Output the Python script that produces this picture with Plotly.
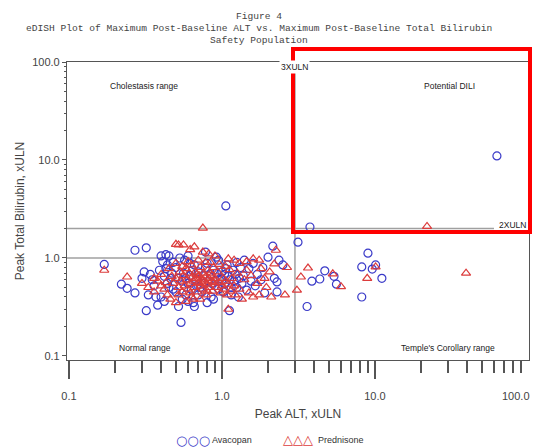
import math
import plotly.graph_objects as go

# ---- data ----
ava_alt = [62.7, 3.76, 1.06, 3.14, 9.0, 8.2, 9.6, 10.1, 11.1, 8.2, 4.7, 4.36, 3.87, 5.4, 5.6, 3.6,
           0.17, 0.27, 0.32, 0.22, 0.24, 0.27, 0.32, 0.54, 0.31, 0.30, 0.35, 0.33, 0.37, 0.40, 0.38, 0.42,
           0.44, 0.40, 0.43, 0.45, 0.41, 0.39, 0.43, 0.47, 0.48, 0.50, 0.52, 0.55, 0.57, 0.60, 0.62, 0.58,
           0.60, 0.63, 0.65, 0.66, 0.68, 0.70, 0.72, 0.74, 0.75, 0.78, 0.80, 0.82, 0.85, 0.88, 0.90, 0.92,
           0.95, 0.98, 1.00, 1.02, 1.05, 1.08, 1.10, 1.12, 1.15, 1.18, 1.20, 1.25, 1.28, 1.30, 1.35, 1.40,
           1.45, 1.50, 1.55, 1.60, 1.65, 1.70, 1.80, 1.85, 1.90, 2.00, 2.15, 2.20, 2.36, 2.29, 2.29, 2.50,
           0.52, 0.55, 0.56, 0.50, 0.48, 0.53, 0.46, 0.45, 0.62, 0.64, 0.66, 0.68, 0.70, 0.76, 0.78, 0.84,
           0.86, 0.92, 0.95, 1.00, 1.04, 1.06, 1.12, 1.22, 1.32, 1.38, 0.36, 0.34, 0.42, 0.44, 0.58, 0.60,
           0.80, 0.88, 1.15, 1.25]
ava_bili = [11.0, 2.07, 3.4, 1.45, 1.12, 0.81, 0.77, 0.85, 0.62, 0.40, 0.74, 0.61, 0.58, 0.65, 0.54, 0.32,
            0.86, 1.20, 1.27, 0.54, 0.49, 0.44, 0.29, 0.22, 0.72, 0.62, 0.60, 0.42, 0.40, 0.40, 0.33, 0.36,
            0.55, 1.05, 1.08, 1.05, 0.92, 0.75, 0.78, 0.70, 0.48, 0.45, 0.32, 0.38, 0.95, 1.05, 0.88, 0.62,
            0.55, 0.48, 0.35, 0.32, 0.60, 0.72, 0.50, 0.45, 0.66, 1.15, 0.88, 0.58, 0.40, 0.75, 0.52, 1.02,
            0.95, 0.62, 0.72, 0.45, 0.55, 0.85, 0.65, 0.29, 0.50, 0.75, 0.58, 0.90, 0.40, 0.62, 0.55, 0.95,
            0.47, 0.78, 0.58, 0.88, 0.52, 0.68, 0.60, 0.80, 0.44, 1.02, 1.32, 0.62, 0.95, 0.57, 0.45, 0.85,
            0.62, 0.58, 0.70, 0.80, 0.90, 1.00, 0.62, 0.50, 0.66, 0.75, 0.85, 0.52, 0.42, 0.55, 0.80, 0.68,
            0.55, 0.70, 0.48, 0.60, 0.68, 0.78, 0.60, 0.68, 0.80, 0.66, 0.52, 0.68, 0.65, 0.85, 0.42, 0.36,
            0.35, 0.38, 0.42, 0.50]

pred_alt = [0.17, 0.24, 0.52, 0.56, 0.50, 0.75, 0.66, 0.62, 0.75, 0.82, 0.90, 1.10, 1.20, 1.30, 1.45, 1.60,
            1.75, 2.20, 2.25, 2.66, 2.58, 3.65, 3.28, 3.09, 5.3, 6.0, 8.9, 10.1, 21.9, 39.4, 1.10,
            0.30, 0.33, 0.36, 0.38, 0.40, 0.42, 0.44, 0.46, 0.48, 0.50, 0.50, 0.52, 0.53, 0.54, 0.55, 0.56,
            0.57, 0.58, 0.59, 0.60, 0.61, 0.62, 0.63, 0.64, 0.65, 0.66, 0.67, 0.68, 0.69, 0.70, 0.71, 0.72,
            0.73, 0.74, 0.75, 0.76, 0.77, 0.78, 0.79, 0.80, 0.81, 0.82, 0.83, 0.84, 0.85, 0.86, 0.87, 0.88,
            0.90, 0.92, 0.94, 0.96, 0.98, 1.00, 1.02, 1.04, 1.06, 1.08, 1.10, 1.14, 1.16, 1.20, 1.22, 1.26,
            1.30, 1.35, 1.40, 1.45, 1.50, 1.55, 1.60, 1.70, 1.75, 1.80, 1.90, 1.95, 2.05, 2.10, 0.45, 0.47,
            0.50, 0.55, 0.60, 0.63, 0.70, 0.78, 0.88, 0.96, 1.05, 1.12, 0.58, 0.65, 0.72, 0.52, 0.62, 0.68,
            0.74, 0.80, 0.84, 0.90, 0.36, 0.40, 0.43]
pred_bili = [0.75, 0.64, 1.36, 1.36, 1.38, 2.02, 1.30, 1.22, 1.15, 1.10, 1.05, 0.98, 0.95, 0.88, 0.92, 0.98,
             0.95, 0.87, 1.20, 0.80, 0.42, 0.79, 0.64, 0.47, 0.69, 0.51, 0.62, 0.81, 2.10, 0.70, 0.30,
             0.55, 0.50, 0.45, 0.58, 0.68, 0.48, 0.42, 0.38, 0.55, 0.62, 0.35, 0.50, 0.72, 0.58, 0.45, 0.66,
             0.52, 0.78, 0.60, 0.48, 0.70, 0.55, 0.40, 0.64, 0.58, 0.50, 0.72, 0.62, 0.45, 0.56, 0.66, 0.80,
             0.52, 0.60, 0.48, 0.70, 0.58, 0.64, 0.42, 0.54, 0.75, 0.62, 0.50, 0.90, 0.58, 0.66, 0.46, 0.56,
             0.62, 0.50, 0.72, 0.56, 0.44, 0.52, 0.62, 0.48, 0.58, 0.42, 0.54, 0.46, 0.62, 0.52, 0.42, 0.70,
             0.48, 0.38, 0.60, 0.75, 0.44, 0.66, 0.40, 0.55, 0.42, 0.78, 0.62, 0.50, 0.72, 0.40, 0.78, 0.65,
             0.88, 0.82, 0.92, 0.85, 0.95, 0.90, 0.80, 0.86, 0.82, 0.76, 0.36, 0.38, 0.38, 0.42, 0.44, 0.68,
             0.55, 0.46, 0.70, 0.58, 0.62, 0.52, 0.56]

x_ticks = [0.1, 1, 10, 100]
x_ticktext = ["0.1", "1.0", "10.0", "100.0"]
y_ticks = [0.1, 1, 10, 100]
y_ticktext = ["0.1", "1.0", "10.0", "100.0"]
minor_vals = [m * d for d in (0.1, 1, 10) for m in range(2, 10)]

title_lines = ["Figure 4",
               "eDISH Plot of Maximum Post-Baseline ALT vs. Maximum Post-Baseline Total Bilirubin",
               "Safety Population"]

BLUE = "#3a3ac8"
RED = "#dc3c3c"
GRAY = "#a0a0a0"

# pixel geometry of plot area
L, R, T, B = 67, 529, 62, 360
W, H = 534, 448


def px(xp):
    return (xp - L) / (R - L)


def py(yp):
    return (B - yp) / (B - T)


fig = go.Figure()

# reference lines
line_style = dict(color=GRAY, width=1.5)
fig.add_trace(go.Scatter(x=[0.09, 1], y=[1, 1], mode="lines", line=line_style, hoverinfo="skip", showlegend=False))
fig.add_trace(go.Scatter(x=[1, 1], y=[0.08, 1], mode="lines", line=line_style, hoverinfo="skip", showlegend=False))
fig.add_trace(go.Scatter(x=[3, 3], y=[0.08, 80], mode="lines", line=line_style, hoverinfo="skip", showlegend=False))
fig.add_trace(go.Scatter(x=[0.09, 60], y=[2, 2], mode="lines", line=line_style, hoverinfo="skip", showlegend=False))

fig.add_trace(go.Scatter(x=ava_alt, y=ava_bili, mode="markers", name="Avacopan",
                         marker=dict(symbol="circle-open", size=8, color=BLUE, line=dict(width=1.2, color=BLUE))))
fig.add_trace(go.Scatter(x=pred_alt, y=pred_bili, mode="markers", name="Prednisone",
                         marker=dict(symbol="triangle-up-open", size=8, color=RED, line=dict(width=1.2, color=RED))))

fig.update_layout(
    width=W, height=H,
    margin=dict(l=L, r=W - R, t=T, b=H - B),
    paper_bgcolor="white", plot_bgcolor="white",
    showlegend=False,
    font=dict(family="Liberation Sans, Arial", color="#333333"),
)

fig.update_xaxes(type="log", range=[-1.013, 2.007], tickvals=x_ticks[:3], ticktext=x_ticktext[:3],
                 ticks="outside", ticklen=18, tickwidth=1.5, tickcolor="#555", automargin=False,
                 ticklabelstandoff=8,
                 minor=dict(ticks="outside", ticklen=12, tickwidth=1.5, tickcolor="#555", tickvals=minor_vals),
                 showgrid=False, zeroline=False, showline=True, linecolor="#555", linewidth=1.2, mirror=True,
                 tickfont=dict(size=11, color="#444"),
                 title=dict(text="Peak ALT, xULN", font=dict(size=12, color="#444"), standoff=8))
fig.update_yaxes(type="log", range=[-1.041, 2.0], tickvals=y_ticks, ticktext=y_ticktext,
                 ticks="outside", ticklen=4, tickwidth=1, tickcolor="#555", automargin=False,
                 minor=dict(ticks="outside", ticklen=2, tickwidth=1, tickcolor="#555", tickvals=minor_vals),
                 showgrid=False, zeroline=False, showline=True, linecolor="#555", linewidth=1.2, mirror=True,
                 tickfont=dict(size=11, color="#444"),
                 title=dict(text="Peak Total Bilirubin, xULN", font=dict(size=12, color="#444"), standoff=4))

ann = []
for txt, yy in zip(title_lines, [17, 28, 40]):
    ann.append(dict(text=txt, x=px(259), y=py(yy), xref="paper", yref="paper", showarrow=False,
                    xanchor="center", yanchor="middle",
                    font=dict(family="Liberation Mono, Courier New, monospace", size=9.6, color="#444")))

# last x tick label, shifted inward as in the reference
ann.append(dict(text=x_ticktext[3], x=px(532), y=py(396), xref="paper", yref="paper", showarrow=False,
                xanchor="right", yanchor="middle", font=dict(size=11, color="#444")))

small = dict(family="Liberation Sans, Arial", size=8.5, color="#222")
for txt, xx, yy in [("Cholestasis range", 108, 86), ("Potential DILI", 422, 86),
                    ("Normal range", 117, 348), ("Temple's Corollary range", 399, 348)]:
    ann.append(dict(text=txt, x=px(xx), y=py(yy), xref="paper", yref="paper", showarrow=False,
                    xanchor="left", yanchor="middle", font=small))
ann.append(dict(text="3XULN", x=math.log10(3), y=py(67), xref="x", yref="paper", showarrow=False,
                xanchor="center", yanchor="middle", font=small, bgcolor="white"))
ann.append(dict(text="2XULN", x=px(497), y=py(225), xref="paper", yref="paper", showarrow=False,
                xanchor="left", yanchor="middle", font=small))

# legend drawn as text symbols
ann.append(dict(text="○○○", x=px(193), y=py(440), xref="paper", yref="paper", showarrow=False,
                xanchor="center", yanchor="middle", font=dict(family="DejaVu Sans", size=13, color=BLUE)))
ann.append(dict(text="Avacopan", x=px(210), y=py(440), xref="paper", yref="paper", showarrow=False,
                xanchor="left", yanchor="middle", font=dict(size=9, color="#333")))
ann.append(dict(text="△△△", x=px(298), y=py(439), xref="paper", yref="paper", showarrow=False,
                xanchor="center", yanchor="middle", font=dict(family="DejaVu Sans", size=13, color=RED)))
ann.append(dict(text="Prednisone", x=px(316), y=py(440), xref="paper", yref="paper", showarrow=False,
                xanchor="left", yanchor="middle", font=dict(size=9, color="#333")))

fig.update_layout(annotations=ann)

# red highlight box
fig.add_shape(type="rect", xref="paper", yref="paper", x0=px(293), x1=px(530), y0=py(232), y1=py(49),
              line=dict(color="#ff0000", width=4), fillcolor="rgba(0,0,0,0)", layer="above")

fig.write_html("out.html", config={"displayModeBar": False},
               post_script="document.body.style.margin='0';")
